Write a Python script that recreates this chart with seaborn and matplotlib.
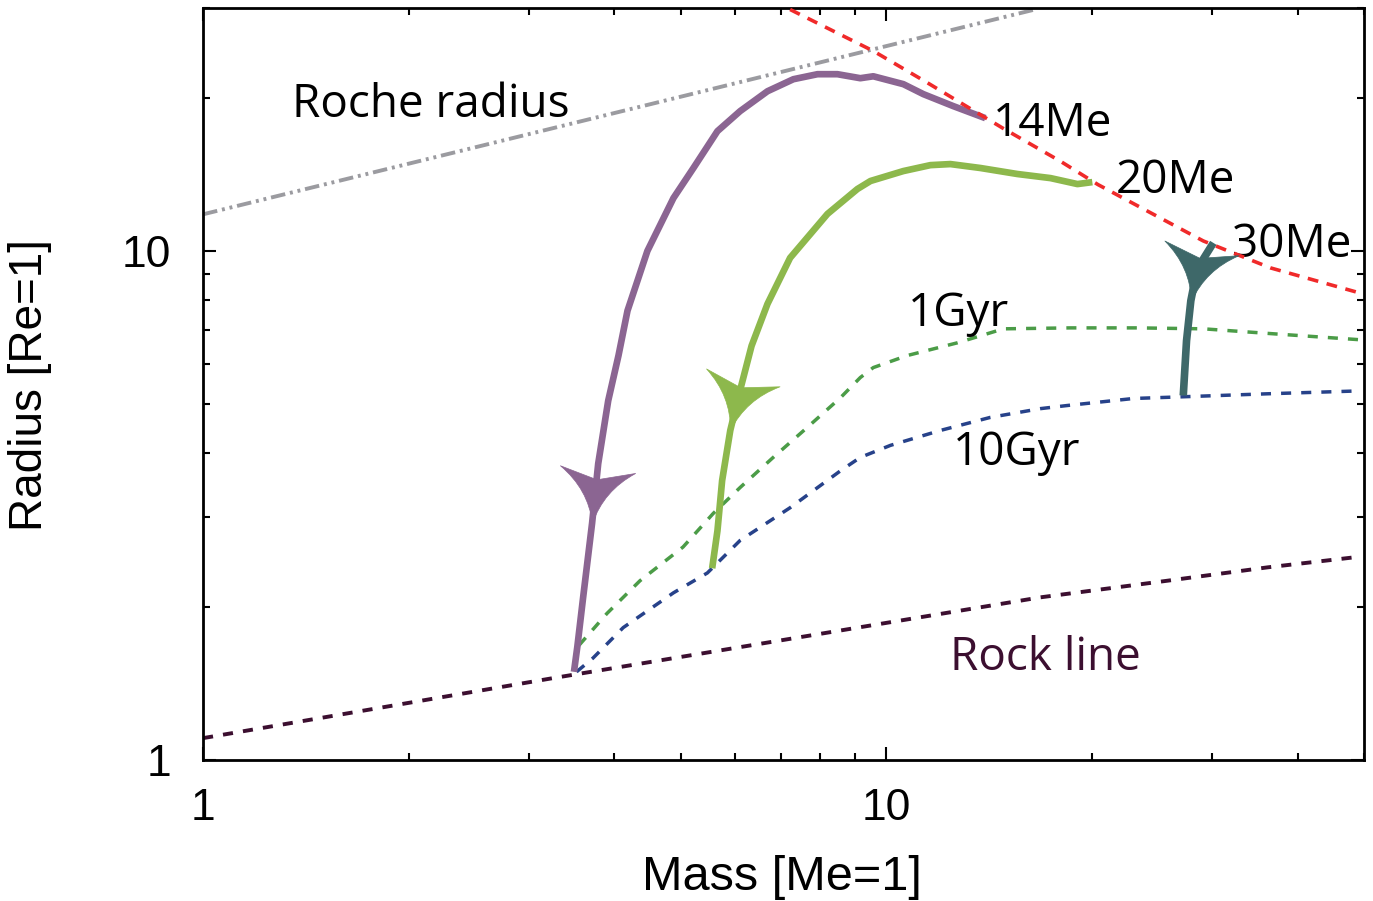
import numpy as np
import matplotlib
matplotlib.use("Agg")
import matplotlib.pyplot as plt
from matplotlib.path import Path
from matplotlib.markers import MarkerStyle
from matplotlib.transforms import Affine2D
import seaborn as sns

# ---- data: planet mass [Earth masses] vs radius [Earth radii] ----
# evolution track of a 14 Me planet
track14_mass = [13.96, 12.53, 11.33, 10.59, 9.57, 9.16, 8.48, 7.93, 7.31, 6.70, 6.11,
                5.66, 5.22, 4.88, 4.47, 4.18, 4.055, 3.917, 3.787, 3.71, 3.60, 3.53, 3.49]
track14_radius = [18.23, 19.25, 20.32, 21.26, 22.03, 21.84, 22.24, 22.24, 21.74, 20.59, 18.82,
                  17.19, 14.55, 12.70, 10.00, 7.63, 6.23, 5.08, 3.82, 2.92, 2.09, 1.67, 1.49]

# evolution track of a 20 Me planet
track20_mass = [20.02, 19.04, 17.39, 15.55, 13.73, 12.41, 11.60, 10.59, 9.48, 9.07,
                8.20, 7.23, 6.70, 6.35, 6.09, 5.91, 5.75, 5.66, 5.56]
track20_radius = [13.65, 13.53, 13.90, 14.16, 14.55, 14.81, 14.74, 14.35, 13.72, 13.23,
                  11.82, 9.69, 7.87, 6.51, 5.24, 4.44, 3.54, 2.82, 2.38]

# evolution track of a 30 Me planet
track30_mass = [30.1, 28.5, 27.9, 27.5, 27.2]
track30_radius = [10.37, 9.22, 7.98, 6.66, 5.20]

# isochrones
iso1_mass = [3.55, 3.90, 4.36, 5.04, 5.58, 6.11, 6.83, 7.66, 8.57, 9.16, 9.57,
             10.73, 12.71, 14.84, 18.60, 23.31, 29.12, 36.50, 49.43]
iso1_radius = [1.68, 1.94, 2.25, 2.62, 3.05, 3.43, 3.93, 4.50, 5.15, 5.64, 5.90,
               6.23, 6.60, 7.03, 7.06, 7.06, 7.03, 6.88, 6.69]
iso10_mass = [3.52, 3.72, 4.12, 4.88, 5.47, 6.11, 7.23, 8.57, 9.16, 10.14, 12.00,
              14.20, 16.81, 18.41, 23.0, 27.2, 36.1, 49.43]
iso10_radius = [1.49, 1.585, 1.82, 2.13, 2.33, 2.70, 3.13, 3.70, 3.93, 4.15, 4.44,
                4.71, 4.90, 4.97, 5.13, 5.17, 5.24, 5.31]

# bare rocky core
rock_mass = [1.0, 3.25, 16.81, 25.79, 36.13, 48.28]
rock_radius = [1.104, 1.448, 2.087, 2.25, 2.39, 2.50]

# Roche-lobe radius
roche_mass = [1.0, 16.5]
roche_radius = [11.8, 29.8]

# onset of Roche-lobe overflow
rlof_mass = [7.23, 9.57, 11.48, 12.96, 14.83, 17.98, 20.4, 24.6, 29.1, 36.5, 49.9]
rlof_radius = [29.8, 24.7, 21.4, 19.4, 17.4, 15.0, 13.5, 11.8, 10.46, 9.26, 8.23]

x_ticks = [1, 10]
x_tick_labels = ["1", "10"]
y_ticks = [1, 10]
y_tick_labels = ["1", "10"]

# ---- style ----
sns.set_theme(style="ticks")
plt.rcParams["font.family"] = ["Liberation Sans", "DejaVu Sans"]
plt.rcParams["text.color"] = "black"
plt.rcParams["axes.labelcolor"] = "black"
plt.rcParams["xtick.color"] = "black"
plt.rcParams["ytick.color"] = "black"

c14 = "#8b6592"
c20 = "#8db84c"
c30 = "#3e6869"
c_rlof = "#f02a2a"
c_roche = "#9b9ba0"
c_iso1 = "#4b9c47"
c_iso10 = "#27428a"
c_rock = "#3c0f30"

fig = plt.figure(figsize=(13.73, 9.01), dpi=100)
ax = fig.add_axes([0.1479, 0.1565, 0.8455, 0.8346])
ax.set_xscale("log")
ax.set_yscale("log")
ax.set_xlim(1, 50)
ax.set_ylim(1, 30)

def line(x, y, color, lw, ls="-", z=2):
    sns.lineplot(x=x, y=y, sort=False, estimator=None, color=color, lw=lw,
                 linestyle=ls, solid_capstyle="butt", dash_capstyle="butt",
                 ax=ax, zorder=z, legend=False)

line(roche_mass, roche_radius, c_roche, 2.8, (0, (3.75, 1.25, 0.75, 1.25, 0.75, 1.25)))
line(rock_mass, rock_radius, c_rock, 2.8, (0, (2.6, 2.6)))
line(iso1_mass, iso1_radius, c_iso1, 2.5, (0, (2.9, 2.9)))
line(iso10_mass, iso10_radius, c_iso10, 2.5, (0, (2.9, 2.9)))
line(track14_mass, track14_radius, c14, 4.8, z=3)
line(track20_mass, track20_radius, c20, 4.8, z=3)
line(track30_mass, track30_radius, c30, 5.5, z=3)
line(rlof_mass, rlof_radius, c_rlof, 2.6, (0, (3.0, 2.4)), z=4)

# arrowheads marking the direction of evolution
head = Path([(0, 0), (-33, 7.5), (-53, 37), (-43, 0), (-53, -37), (-33, -7.5), (0, 0), (0, 0)],
            [Path.MOVETO, Path.CURVE3, Path.CURVE3, Path.LINETO, Path.LINETO,
             Path.CURVE3, Path.CURVE3, Path.CLOSEPOLY])

def arrow_head(xs, ys, i, color):
    p0 = ax.transData.transform((xs[i - 1], ys[i - 1]))
    p1 = ax.transData.transform((xs[i], ys[i]))
    ang = np.degrees(np.arctan2(p1[1] - p0[1], p1[0] - p0[0]))
    m = MarkerStyle(head, transform=Affine2D().rotate_deg(ang))
    ax.plot([xs[i]], [ys[i]], marker=m, ms=78, color=color, mec=color, mew=0.5,
            ls="none", zorder=5)

arrow_head(track14_mass, track14_radius, 19, c14)
arrow_head(track20_mass, track20_radius, 15, c20)
arrow_head(track30_mass, track30_radius, 2, c30)

# annotations
ann = dict(family=["Open Sans", "DejaVu Sans"], ha="left", va="baseline")
ax.text(1.35, 18.3, "Roche radius", fontsize=33, color="black", **ann)
ax.text(14.30, 16.81, "14Me", fontsize=33, color="black", **ann)
ax.text(21.64, 12.99, "20Me", fontsize=33, color="black", **ann)
ax.text(32.1, 9.73, "30Me", fontsize=33, color="black", **ann)
ax.text(10.77, 7.13, "1Gyr", fontsize=33, color="black", **ann)
ax.text(12.53, 3.79, "10Gyr", fontsize=33, color="black", **ann)
ax.text(12.41, 1.50, "Rock line", fontsize=33, color=c_rock, **ann)

# axes
ax.set_xticks(x_ticks)
ax.set_xticklabels(x_tick_labels)
ax.set_yticks(y_ticks)
ax.set_yticklabels(y_tick_labels)
ax.xaxis.set_minor_formatter(matplotlib.ticker.NullFormatter())
ax.yaxis.set_minor_formatter(matplotlib.ticker.NullFormatter())
ax.tick_params(which="both", direction="in", top=True, right=True, color="black", width=1.5)
ax.tick_params(which="major", length=9.5, labelsize=32, labelcolor="black")
ax.tick_params(axis="x", which="major", pad=20)
ax.tick_params(axis="y", which="major", pad=23)
ax.tick_params(which="minor", length=5)
for s in ax.spines.values():
    s.set_linewidth(2.0)
    s.set_color("black")

ax.set_xlabel("Mass [Me=1]", fontsize=35, color="black")
ax.set_ylabel("Radius [Re=1]", fontsize=33, color="black")
ax.xaxis.set_label_coords(0.499, -0.126)
ax.yaxis.set_label_coords(-0.130, 0.499)

fig.savefig("out.png", dpi=100, facecolor="white")
